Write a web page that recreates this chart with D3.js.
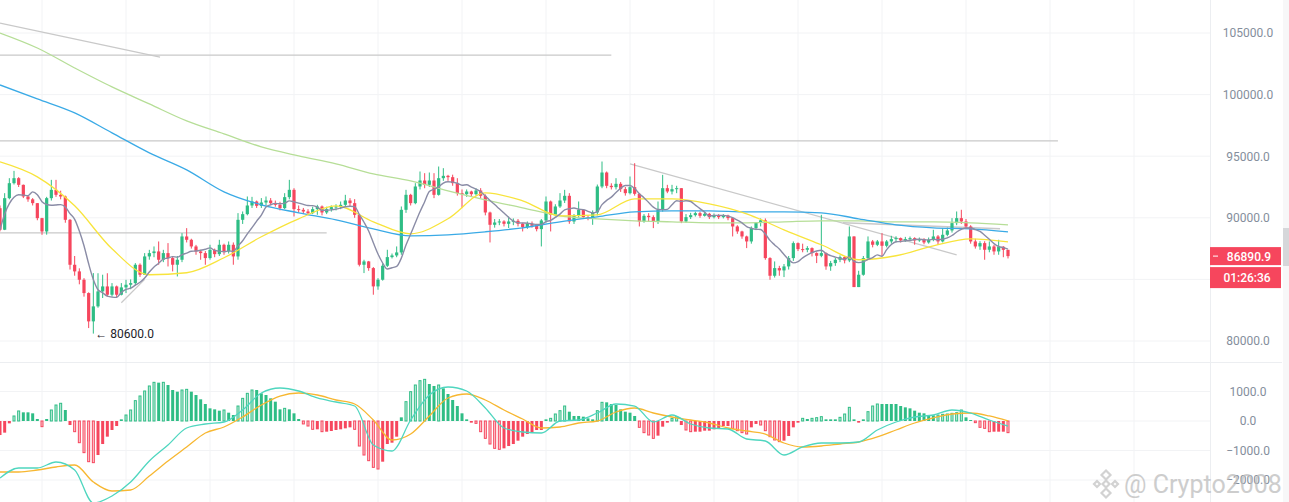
<!DOCTYPE html>
<html>
<head>
<meta charset="utf-8">
<script src="https://cdn.jsdelivr.net/npm/d3@7"></script>
<style>
  html, body { margin: 0; padding: 0; background: #fff; overflow: hidden; }
  svg { display: block; font-family: Roboto, "Noto Sans", sans-serif; }
</style>
</head>
<body>
<svg id="chart" width="1289" height="502"></svg>
<script>
// ---- data (4h candles, open = previous close) ----
var openFirst = 90780;
var closes = [
  89030, 91594, 92810, 93216, 92675, 91730, 91500, 91190, 89972, 88890,
  91594, 92270, 91865, 91730, 89837, 86188, 85650, 84972, 83890, 81593,
  82810, 84026, 84430, 83755, 84430, 83755, 84350, 84566, 84700, 86188,
  85377, 86864, 87134, 87270, 86594, 87134, 86730, 86190, 86594, 88485,
  88215, 87675, 87270, 87134, 86730, 87400, 87050, 87810, 87270, 87810,
  86864, 89837, 90297, 90999, 91324, 90973, 91243, 91405, 91189, 91054,
  90784, 91676, 92270, 90703, 90648, 90513, 90378, 90703, 90919, 90432,
  90703, 90865, 90919, 91054, 91405, 91189, 90243, 86188, 86459, 85918,
  84432, 84972, 86107, 86810, 86945, 87189, 90648, 91865, 91189, 92541,
  93027, 92676, 93027, 91865, 93216, 93406, 93298, 92811, 92000, 91919,
  92135, 91919, 92216, 91784, 90432, 89432, 89621, 89703, 89513, 89702,
  89757, 89513, 89243, 89513, 89351, 89081, 89784, 91324, 90243, 90919,
  91405, 91784, 89700, 90160, 90648, 90054, 89950, 90432, 92541, 93676,
  92595, 92487, 92757, 92324, 92000, 92487, 91946, 89703, 90162, 90054,
  89703, 90648, 92405, 92135, 92324, 92405, 89703, 90054, 90216, 90378,
  90162, 90324, 90054, 90216, 90054, 90189, 89973, 89297, 88892, 88486,
  88081, 89162, 89600, 89800, 86729, 85296, 85918, 85729, 86053, 86729,
  87945, 87459, 87405, 87540, 87135, 86918, 87135, 86053, 86324, 86594,
  86810, 86540, 88486, 84377, 85378, 86729, 88081, 87810, 88081, 87729,
  88081, 88270, 88351, 88162, 88270, 88351, 88162, 88270, 87999, 88216,
  88486, 88081, 88621, 88972, 89567, 89972, 89702, 89297, 88081, 87675,
  87945, 87405, 87675, 87270, 87650, 87400, 86890.9
];
var highs = [
  91000, 92000, 93216, 93810, 93300, 92700, 91800, 91600, 91200, 90000,
  91700, 93080, 93080, 92200, 91800, 89900, 86900, 85900, 85100, 83950,
  85512, 85500, 85380, 85500, 84700, 84500, 84700, 84970, 85000, 86320,
  86300, 87134, 87400, 87675, 88080, 87400, 87945, 86900, 86900, 88756,
  89160, 88300, 87800, 87400, 87300, 87810, 87500, 88215, 87900, 88080,
  88000, 90378, 90513, 91729, 91700, 91400, 91600, 91730, 91600, 91400,
  91300, 92000, 93081, 92400, 91000, 90800, 90700, 90900, 91054, 91000,
  90900, 91000, 91100, 91324, 91865, 91595, 91514, 90300, 86594, 86500,
  86000, 85100, 86300, 87405, 87100, 87675, 90919, 92270, 91946, 92811,
  93757, 93622, 93676, 93622, 94162, 94027, 93487, 93500, 93216, 92300,
  92300, 92200, 92400, 92405, 91900, 90500, 89900, 89900, 89800, 90108,
  89950, 89900, 89600, 89700, 89700, 89500, 89900, 91730, 91400, 91100,
  92000, 92270, 92000, 90300, 91324, 90700, 90200, 90600, 92700, 94568,
  93757, 92800, 93216, 92900, 92500, 93352, 94433, 92000, 90300, 90378,
  90200, 91324, 93487, 92676, 92676, 92600, 92270, 90300, 90400, 90500,
  90500, 90450, 90400, 90350, 90300, 90300, 90250, 90050, 89400, 88950,
  88550, 89300, 89650, 89950, 89950, 86800, 86459, 86100, 86250, 86900,
  88081, 88000, 87900, 87700, 87600, 87200, 90243, 87200, 86500, 86750,
  86950, 86900, 89297, 88500, 85700, 86900, 88486, 88200, 88200, 88756,
  88200, 88540, 88500, 88400, 88450, 88480, 88420, 88400, 88350, 88400,
  89026, 88600, 89162, 89200, 89972, 90513, 90650, 89900, 89400, 88300,
  88100, 88100, 88081, 87800, 88216, 87700, 87200
];
var lows = [
  88900, 89000, 91500, 92700, 92500, 91600, 91300, 91000, 89800, 88620,
  88630, 91400, 91700, 91500, 89600, 85800, 85300, 84600, 83600, 81050,
  80600, 82700, 83490, 83600, 83600, 83490, 83700, 83890, 84200, 84500,
  85200, 85650, 86600, 86800, 86190, 86400, 86050, 85650, 85240, 86400,
  88000, 87500, 87000, 86594, 86190, 86600, 86800, 86900, 87000, 87100,
  86190, 86600, 89500, 90200, 90800, 90800, 90800, 91000, 91000, 90900,
  90600, 90700, 91500, 90108, 90400, 90300, 90200, 90300, 90243, 90200,
  90300, 90500, 90600, 90700, 90900, 90900, 90000, 86053, 85513, 85700,
  83756, 84161, 84900, 86000, 86700, 86800, 87000, 90400, 91000, 91100,
  92300, 92400, 92500, 91595, 91800, 93000, 93000, 92600, 91800, 90784,
  91700, 91700, 91800, 91600, 90200, 88000, 89200, 89400, 89300, 89162,
  89400, 89300, 88892, 89100, 89200, 88900, 87675, 89600, 88892, 90100,
  90800, 91200, 89513, 89500, 90000, 89900, 89800, 89432, 90200, 92400,
  92400, 92300, 92300, 92100, 91800, 91900, 91800, 89297, 89600, 89700,
  89162, 89500, 90500, 92000, 91900, 92000, 89567, 89600, 89900, 90100,
  90000, 90100, 89900, 89950, 89900, 89950, 89800, 88486, 88700, 88300,
  87540, 87900, 89000, 89300, 86594, 84972, 85150, 85296, 85189, 85800,
  86500, 87300, 87200, 87200, 86864, 86324, 86800, 85783, 85700, 86100,
  86400, 86300, 86400, 84377, 84377, 85300, 86600, 87600, 87700, 86864,
  87600, 87900, 88000, 88000, 88050, 88100, 87810, 88050, 87850, 87900,
  88100, 87810, 88000, 88500, 88800, 89400, 89500, 89100, 87900, 87500,
  87400, 86594, 87200, 87000, 87000, 86800, 86700
];

// MACD histogram, one value per candle
var macdHist = [
  -475, -395, -80, 170, 340, 294, 294, 260, 68, -192,
  68, 373, 542, 600, 373, -136, -362, -735, -1073, -1379,
  -1412, -1153, -780, -531, -305, -170, 56, 203, 373, 690,
  848, 1017, 1187, 1311, 1300, 1311, 1220, 1051, 994, 1051,
  1073, 994, 881, 735, 576, 429, 395, 350, 373, 282,
  203, 508, 768, 938, 1051, 1051, 938, 881, 768, 655,
  395, 429, 395, 260, 68, -100, -170, -282, -282, -362,
  -362, -339, -305, -282, -249, -215, -282, -848, -1153, -1345,
  -1571, -1627, -1379, -780, -735, -531, 124, 655, 994, 1220,
  1367, 1412, 1254, 1187, 1220, 1107, 915, 712, 508, 260,
  56, -56, -80, -362, -588, -780, -927, -960, -927, -848,
  -780, -667, -531, -441, -395, -305, -305, 56, 90, 237,
  350, 508, 316, 170, 170, 147, 90, 56, 350, 633,
  633, 576, 542, 395, 316, 282, 170, -215, -395, -475,
  -588, -497, -192, -56, 90, 147, -136, -305, -362, -362,
  -362, -328, -328, -282, -249, -170, -170, -249, -328, -395,
  -441, -215, -100, -136, -328, -531, -644, -700, -667, -508,
  -215, -56, 90, 68, 90, 113, 147, 56, 56, 56,
  124, 237, 463, 56, -56, 56, 316, 508, 576, 576,
  576, 576, 576, 508, 463, 429, 350, 282, 260, 203,
  192, 203, 226, 237, 260, 282, 373, 124, 34, -56,
  -215, -249, -362, -362, -362, -362, -395
];
// DIF / DEA read every 4 candles
var difStep = 4;
var difVals = [
  -1932, -1593, -1593, -1390, -1661, -2780, -2543, -2068, -1356, -814,
  -237, -102, -34, 373, 949, 1119, 1017, 780, 644, 508,
  -814, -1017, 34, 881, 1153, 1017, 441, -237, -373, -407,
  0, 34, 271, 576, 508, -34, 203, -102, -237, -271,
  -610, -678, -1153, -881, -746, -746, -712, -305, -34, 136,
  203, 373, 271, 34, -170
];
var deaVals = [
  -1729, -1729, -1661, -1559, -1492, -2068, -2373, -2339, -1865, -1356,
  -881, -407, -203, 136, 542, 847, 949, 881, 712, 576,
  34, -644, -441, 170, 780, 915, 712, 373, 68, -237,
  -203, -68, 0, 305, 441, 271, 136, 34, -68, -237,
  -339, -441, -746, -881, -848, -780, -712, -542, -305, -68,
  102, 237, 271, 170, 0
];
// long moving averages read every 8 candles
var maStep = 8;
var ma25Vals = [94540, 93324, 90973, 87487, 85378, 85541, 86757, 88459, 89919, 90973,
  89676, 88703, 89919, 92027, 91378, 90162, 90243, 91541, 91541, 91135,
  90324, 89027, 87811, 86595, 86919, 87730, 88297, 88054];
var ma99Vals = [100784, 99649, 98513, 96892, 95270, 93892, 92108, 91054, 90405, 89838,
  89108, 88541, 88622, 88865, 89189, 89676, 90081, 90486, 90568, 90568,
  90486, 90486, 90405, 89919, 89432, 89189, 89108, 88865];
var ma200Vals = [105000, 103784, 102162, 100621, 99243, 97865, 96811, 95757, 95027, 94378,
  93568, 93000, 92189, 91459, 90811, 90162, 89919, 89757, 89676, 89595,
  89595, 89676, 89757, 89757, 89676, 89676, 89595, 89432];

// user-drawn lines: [fromCandle, fromPrice, toCandle, toPrice]
var trendLines = [
  [0, 105810, 34.3, 103050],
  [0, 103200, 131, 103200],
  [0, 96240, 226.7, 96240],
  [0, 88780, 70, 88780],
  [26, 83100, 31, 85000],
  [135, 94380, 205, 87000],
  [180.6, 89600, 214.3, 89110]
];

var priceTicks = [80000, 85000, 90000, 95000, 100000, 105000];
var macdTicks = [-2000, -1000, 0, 1000];
var countdown = "01:26:36";
var watermark = "@ Crypto2008";

// ---- colours ----
var UP = "#2ebd85", DOWN = "#f6465d";
var GRID = "#f2f3f5", AXIS_TXT = "#848e9c";

var svg = d3.select("#chart");
var plotW = 1210;
var N = closes.length;

var candles = closes.map(function(c, i) {
  var o = i === 0 ? openFirst : closes[i - 1];
  return { i: i, o: o, c: c, h: Math.max(highs[i], o, c), l: Math.min(lows[i], o, c) };
});

var x = d3.scaleLinear().domain([0, N - 1]).range([0, 1008]);
var yP = d3.scaleLinear().domain([80000, 105000]).range([341, 33]);
var yM = d3.scaleLinear().domain([-2000, 1000]).range([480, 391.5]);

var lastPrice = closes[N - 1];
var yl = yP(lastPrice);
// price tag covers y from yl-9 to yl+32: axis labels under it are not shown
var priceLabelTicks = priceTicks.filter(function(t) {
  var y = yP(t);
  return y < yl - 16 || y > yl + 38;
});

var defs = svg.append("defs");
defs.append("clipPath").attr("id", "clipP").append("rect")
  .attr("x", 0).attr("y", 0).attr("width", plotW).attr("height", 362);
defs.append("clipPath").attr("id", "clipM").append("rect")
  .attr("x", 0).attr("y", 363).attr("width", plotW).attr("height", 139);

// ---- grid ----
var grid = svg.append("g");
var gridIdx = d3.range(9, 250, 18);
grid.selectAll("line.v").data(gridIdx).join("line")
  .attr("x1", d => x(d)).attr("x2", d => x(d))
  .attr("y1", 0).attr("y2", 502)
  .attr("stroke", GRID);
grid.selectAll("line.hp").data(priceTicks).join("line")
  .attr("x1", 0).attr("x2", plotW)
  .attr("y1", d => yP(d)).attr("y2", d => yP(d))
  .attr("stroke", GRID);
grid.selectAll("line.hm").data(macdTicks).join("line")
  .attr("x1", 0).attr("x2", plotW)
  .attr("y1", d => yM(d)).attr("y2", d => yM(d))
  .attr("stroke", GRID);
// panel frame
svg.append("line").attr("x1", 0).attr("x2", 1282).attr("y1", 362.5).attr("y2", 362.5).attr("stroke", "#eceef1");
svg.append("line").attr("x1", plotW + 0.5).attr("x2", plotW + 0.5).attr("y1", 0).attr("y2", 502).attr("stroke", "#eceef1");

// ---- price panel ----
var gp = svg.append("g").attr("clip-path", "url(#clipP)");

gp.selectAll("line.trend").data(trendLines).join("line")
  .attr("x1", d => x(d[0])).attr("y1", d => yP(d[1]))
  .attr("x2", d => x(d[2])).attr("y2", d => yP(d[3]))
  .attr("stroke", "#c9c9c9").attr("stroke-width", 1.3);

var cg = gp.append("g");
cg.selectAll("line.wick").data(candles).join("line")
  .attr("x1", d => x(d.i)).attr("x2", d => x(d.i))
  .attr("y1", d => yP(d.h)).attr("y2", d => yP(d.l))
  .attr("stroke", d => d.c >= d.o ? UP : DOWN).attr("stroke-width", 1);
cg.selectAll("rect.body").data(candles).join("rect")
  .attr("x", d => x(d.i) - 1.6).attr("width", 3.2)
  .attr("y", d => yP(Math.max(d.o, d.c)))
  .attr("height", d => Math.max(1, Math.abs(yP(d.o) - yP(d.c))))
  .attr("fill", d => d.c >= d.o ? UP : DOWN);

function sampled(vals, step) { return vals.map(function(v, k) { return [k * step, v]; }); }
var priceLine = d3.line().x(d => x(d[0])).y(d => yP(d[1])).curve(d3.curveMonotoneX);

var ma7 = closes.map(function(c, i) {
  return [i, d3.mean(closes.slice(Math.max(0, i - 6), i + 1))];
});

[[ma200Vals, "#b6de97"], [ma99Vals, "#3aaae6"], [ma25Vals, "#f8e43c"]].forEach(function(m) {
  gp.append("path").datum(sampled(m[0], maStep))
    .attr("d", priceLine).attr("fill", "none")
    .attr("stroke", m[1]).attr("stroke-width", 1.3);
});
gp.append("path").datum(ma7)
  .attr("d", priceLine)
  .attr("fill", "none").attr("stroke", "#8a8ca6").attr("stroke-width", 1.4);

// lowest price marker
var lowIdx = d3.minIndex(candles, d => d.l);
gp.append("text")
  .attr("x", x(lowIdx) + 2).attr("y", yP(candles[lowIdx].l) + 4)
  .attr("font-size", 12).attr("fill", "#1e2329")
  .text("\u2190 " + candles[lowIdx].l.toFixed(1));

// ---- MACD panel ----
var gm = svg.append("g").attr("clip-path", "url(#clipM)");
var bars = macdHist.map(function(v, i) {
  var prev = i === 0 ? v : macdHist[i - 1];
  return { i: i, v: v, hollow: i > 0 && Math.abs(v) > Math.abs(prev) };
});
gm.selectAll("rect.bar").data(bars).join("rect")
  .attr("x", d => x(d.i) - (d.hollow ? 1 : 1.5))
  .attr("width", d => d.hollow ? 2 : 3)
  .attr("y", d => yM(Math.max(0, d.v)))
  .attr("height", d => Math.max(1, Math.abs(yM(d.v) - yM(0))))
  .attr("fill", d => d.v >= 0 ? UP : DOWN)
  .attr("fill-opacity", d => d.hollow ? 0.25 : 1)
  .attr("stroke", d => d.hollow ? (d.v >= 0 ? UP : DOWN) : "none")
  .attr("stroke-width", 1);

var macdLine = d3.line().x(d => x(d[0])).y(d => yM(d[1])).curve(d3.curveMonotoneX);
gm.append("path").datum(sampled(deaVals, difStep))
  .attr("d", macdLine).attr("fill", "none").attr("stroke", "#f7b731").attr("stroke-width", 1.3);
gm.append("path").datum(sampled(difVals, difStep))
  .attr("d", macdLine).attr("fill", "none").attr("stroke", "#4fd6bf").attr("stroke-width", 1.3);

// ---- axes ----
function styleAxis(g) {
  g.select(".domain").remove();
  g.selectAll("text").attr("x", 0).attr("text-anchor", "middle")
    .attr("fill", AXIS_TXT).attr("font-size", 12)
    .attr("font-family", "Roboto, 'Noto Sans', sans-serif");
}
svg.append("g").attr("transform", "translate(1248,0)")
  .call(d3.axisRight(yP).tickValues(priceLabelTicks).tickSize(0).tickFormat(d3.format(".1f")))
  .call(styleAxis);
svg.append("g").attr("transform", "translate(1248,0)")
  .call(d3.axisRight(yM).tickValues(macdTicks).tickSize(0).tickFormat(d3.format(".1f")))
  .call(styleAxis);

// scrollbar at the right edge
svg.append("rect").attr("x", 1283).attr("y", 0).attr("width", 6).attr("height", 502).attr("fill", "#f7f7f8");
svg.append("rect").attr("x", 1283).attr("y", 228).attr("width", 6).attr("height", 38).attr("fill", "#d6d7da");

// last price + countdown
var tag = svg.append("g");
tag.append("rect").attr("x", 1210).attr("y", yl - 9).attr("width", 71).attr("height", 18).attr("fill", DOWN);
tag.append("line").attr("x1", 1213).attr("x2", 1218).attr("y1", yl).attr("y2", yl).attr("stroke", "#fff");
tag.append("text").attr("x", 1249).attr("y", yl + 4.5).attr("text-anchor", "middle")
  .attr("fill", "#fff").attr("font-size", 12).attr("font-weight", 500).text(lastPrice.toFixed(1));
tag.append("rect").attr("x", 1210).attr("y", yl + 11).attr("width", 71).attr("height", 21).attr("fill", DOWN);
tag.append("text").attr("x", 1247).attr("y", yl + 25.5).attr("text-anchor", "middle")
  .attr("fill", "#fff").attr("font-size", 12).attr("font-weight", 500).text(countdown);

// watermark (it lies over the -2000.0 label, as in the original screenshot)
var wm = svg.append("g").attr("opacity", 0.75);
var lc = [1106, 484];
function diamond(cx, cy, r) {
  return [[cx, cy - r], [cx + r, cy], [cx, cy + r], [cx - r, cy]].map(p => p.join(",")).join(" ");
}
[[0, -9, 4.5], [-9, 0, 3], [9, 0, 3], [0, 9, 4.5], [0, 0, 3.5]].forEach(function(d) {
  wm.append("polygon").attr("points", diamond(lc[0] + d[0], lc[1] + d[1], d[2]))
    .attr("fill", "#fff").attr("stroke", "#c4c4c4").attr("stroke-width", 2.2);
});
wm.append("text").attr("x", 1124).attr("y", 493)
  .attr("font-size", 25).attr("fill", "#bdbdbd").text(watermark);
</script>
</body>
</html>
